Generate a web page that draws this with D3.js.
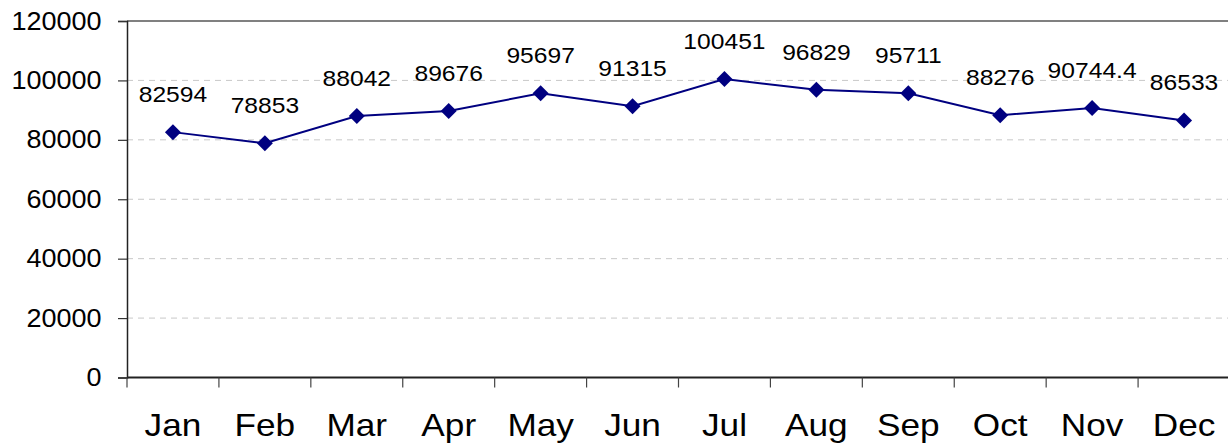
<!DOCTYPE html>
<html>
<head>
<meta charset="utf-8">
<script src="https://cdn.jsdelivr.net/npm/d3@7"></script>
<style>
  html, body { margin: 0; padding: 0; background: #fff; }
  svg { display: block; font-family: Arial, "Liberation Sans", sans-serif; }
</style>
</head>
<body>
<svg id="chart" width="1228" height="448"></svg>
<script>
// chart data
const months = ["Jan", "Feb", "Mar", "Apr", "May", "Jun", "Jul", "Aug", "Sep", "Oct", "Nov", "Dec"]
const values = [82594, 78853, 88042, 89676, 95697, 91315, 100451, 96829, 95711, 88276, 90744.4, 86533]
const valueLabels = ["82594", "78853", "88042", "89676", "95697", "91315", "100451", "96829", "95711", "88276", "90744.4", "86533"]
const yTicks = [0, 20000, 40000, 60000, 80000, 100000, 120000]

const width = 1228, height = 448
const plotLeft = 127, plotRight = 1230, plotTop = 21, plotBottom = 377.5

const svg = d3.select("#chart")

const x = d3.scaleBand().domain(months).range([plotLeft, plotRight])
const y = d3.scaleLinear().domain([0, 120000]).range([plotBottom, plotTop])
const cx = m => x(m) + x.bandwidth() / 2

// gridlines (dashed) and top border
svg.append("g")
  .selectAll("line")
  .data(yTicks.filter(t => t > 0 && t < 120000))
  .join("line")
  .attr("x1", plotLeft).attr("x2", width)
  .attr("y1", d => y(d)).attr("y2", d => y(d))
  .attr("stroke", "#c8c8c8")
  .attr("stroke-width", 1)
  .attr("stroke-dasharray", "6,5")

svg.append("line")
  .attr("x1", plotLeft).attr("x2", width)
  .attr("y1", y(120000)).attr("y2", y(120000))
  .attr("stroke", "#808080")
  .attr("stroke-width", 2)

// y axis
const yAxis = svg.append("g").attr("transform", `translate(${plotLeft},0)`)
  .call(d3.axisLeft(y).tickValues(yTicks).tickSize(9).tickPadding(14.5).tickFormat(d3.format("d")))
yAxis.select(".domain").attr("stroke", "#222").attr("stroke-width", 1.5)
yAxis.selectAll(".tick line").attr("stroke", "#333").attr("stroke-width", 1.2)
yAxis.selectAll(".tick text")
  .attr("font-size", 25)
  .attr("fill", "#000")
  .attr("font-family", "Arial, 'Liberation Sans', sans-serif")
  .attr("transform", "scale(1.08,1)")

// x axis line + boundary ticks
svg.append("line")
  .attr("x1", plotLeft).attr("x2", width)
  .attr("y1", plotBottom).attr("y2", plotBottom)
  .attr("stroke", "#222").attr("stroke-width", 2)

svg.append("g")
  .selectAll("line")
  .data(months)
  .join("line")
  .attr("x1", d => x(d)).attr("x2", d => x(d))
  .attr("y1", plotBottom).attr("y2", plotBottom + 10)
  .attr("stroke", "#444").attr("stroke-width", 1.2)

svg.append("g")
  .selectAll("text")
  .data(months)
  .join("text")
  .attr("transform", d => `translate(${cx(d)},436) scale(1.1,1)`)
  .attr("text-anchor", "middle")
  .attr("font-size", 32)
  .attr("fill", "#000")
  .text(d => d)

// series line
const pts = months.map((m, i) => ({ m, v: values[i], label: valueLabels[i] }))
const line = d3.line()
  .x(d => cx(d.m))
  .y(d => y(d.v))

svg.append("path")
  .datum(pts)
  .attr("d", line)
  .attr("fill", "none")
  .attr("stroke", "#000080")
  .attr("stroke-width", 2)

// diamond markers
svg.append("g")
  .selectAll("path")
  .data(pts)
  .join("path")
  .attr("transform", d => `translate(${cx(d.m)},${y(d.v)})`)
  .attr("d", "M0,-8L8,0L0,8L-8,0Z")
  .attr("fill", "#000080")

// data labels
svg.append("g")
  .selectAll("text")
  .data(pts)
  .join("text")
  .attr("transform", d => `translate(${cx(d.m)},${y(d.v) - 30}) scale(1.12,1)`)
  .attr("text-anchor", "middle")
  .attr("font-size", 22)
  .attr("fill", "#000")
  .text(d => d.label)
</script>
</body>
</html>
